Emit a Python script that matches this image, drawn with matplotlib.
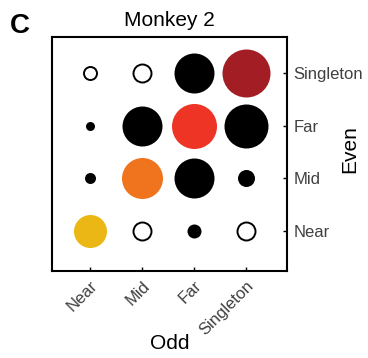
import matplotlib.pyplot as plt
import numpy as np

plt.rcParams['font.family'] = ['Liberation Sans', 'DejaVu Sans']

# categories
odd_labels = ["Near", "Mid", "Far", "Singleton"]
even_labels = ["Near", "Mid", "Far", "Singleton"]

# circle diameters (px), rows = even, cols = odd
diam = np.array([
    [33, 18, 14, 18],   # even Near
    [11, 41, 40, 17],   # even Mid
    [9, 40, 45, 44],    # even Far
    [13, 18, 40, 48],   # even Singleton
])
# fill: 'o' open circle, 'k' black, or a colour for the diagonal
fills = [
    ["#EAB714", "o", "k", "o"],
    ["k", "#F0741E", "k", "k"],
    ["k", "k", "#EE3424", "k"],
    ["o", "o", "k", "#A31D24"],
]

fig = plt.figure(figsize=(3.68, 3.58), dpi=100)
ax = fig.add_axes([0.1413, 0.243, 0.638, 0.6536])

for i in range(4):
    for j in range(4):
        s = (diam[i, j] * 0.72) ** 2
        f = fills[i][j]
        if f == "o":
            ax.scatter(j + 1, i + 1, s=s, facecolor="white", edgecolor="black", linewidth=1.4, zorder=3)
        elif f == "k":
            ax.scatter(j + 1, i + 1, s=s, color="black", linewidth=0, zorder=3)
        else:
            ax.scatter(j + 1, i + 1, s=s, color=f, linewidth=0, zorder=3)

ax.set_xlim(0.27, 4.79)
ax.set_ylim(0.23, 4.69)
ax.set_xticks([1, 2, 3, 4])
ax.set_yticks([1, 2, 3, 4])
ax.set_xticklabels(odd_labels, rotation=45, ha="right", rotation_mode="anchor")
ax.set_yticklabels(even_labels)
ax.yaxis.tick_right()
ax.yaxis.set_label_position("right")
ax.tick_params(direction="in", length=3, width=1, labelsize=12, labelcolor="#404040", pad=5)
ax.tick_params(axis="y", right=True, left=False)
for sp in ax.spines.values():
    sp.set_linewidth(1.5)

ax.set_xlabel("Odd", fontsize=15)
ax.set_ylabel("Even", fontsize=15, rotation=90, va="center")
ax.xaxis.set_label_coords(0.5, -0.27)
ax.yaxis.set_label_coords(1.27, 0.52)
ax.set_title("Monkey 2", fontsize=15, pad=8)
fig.text(0.027, 0.965, "C", fontsize=20, fontweight="bold", va="top", ha="left")

plt.savefig("out.png", dpi=100)
